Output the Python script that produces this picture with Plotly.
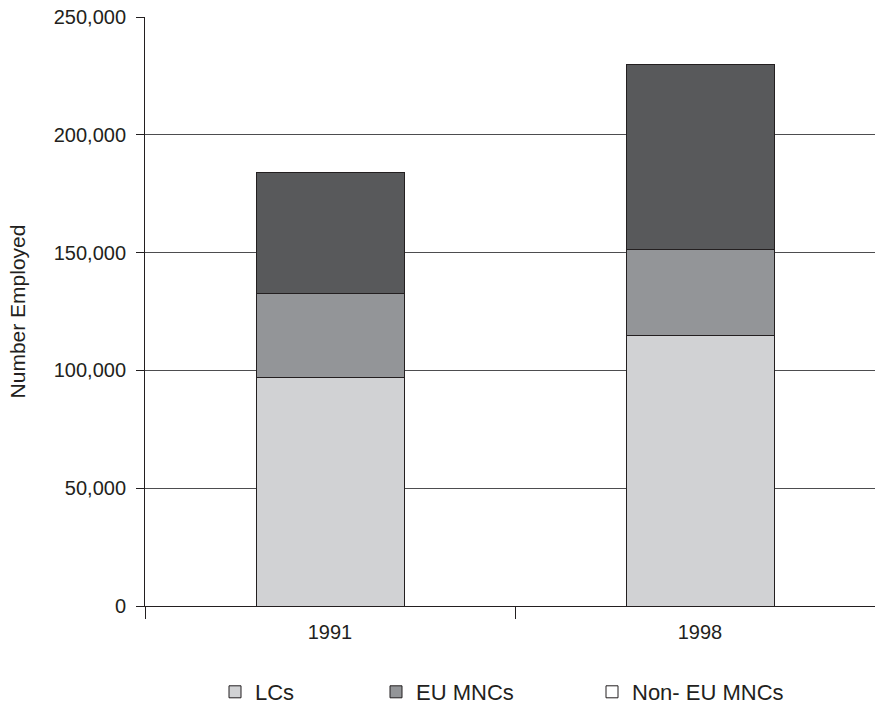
import plotly.graph_objects as go

years = ["1991", "1998"]
lcs = [97000, 115000]
eu_mncs = [35500, 36500]
non_eu_mncs = [51500, 78500]
y_ticks = [0, 50000, 100000, 150000, 200000, 250000]
y_tick_labels = ["0", "50,000", "100,000", "150,000", "200,000", "250,000"]

FONT = "Liberation Sans, Arial, sans-serif"
EDGE = "#231f20"
FS = 20

fig = go.Figure()
fig.add_trace(go.Bar(x=years, y=lcs, name="LCs", marker=dict(color="#d1d2d4", line=dict(color=EDGE, width=1)),
                     width=0.4, legend="legend"))
fig.add_trace(go.Bar(x=years, y=eu_mncs, name="EU MNCs", marker=dict(color="#939598", line=dict(color=EDGE, width=1)),
                     width=0.4, legend="legend2"))
fig.add_trace(go.Bar(x=years, y=non_eu_mncs, name="Non- EU MNCs", marker=dict(color="#58595b", line=dict(color=EDGE, width=1)),
                     width=0.4, showlegend=False))
# legend-only entry (white swatch as in the original legend)
fig.add_trace(go.Bar(x=[years[0]], y=[None], name="Non- EU MNCs",
                     marker=dict(color="#ffffff", line=dict(color=EDGE, width=1)), legend="legend3"))

leg_common = dict(orientation="h", yanchor="middle", xanchor="left", yref="container", xref="paper",
                  font=dict(family=FONT, size=22, color=EDGE), bgcolor="rgba(0,0,0,0)",
                  itemwidth=30, tracegroupgap=0)

fig.update_layout(
    barmode="stack",
    width=875, height=709,
    margin=dict(l=145, r=0, t=17, b=103),
    paper_bgcolor="white", plot_bgcolor="white",
    font=dict(family=FONT, size=FS, color=EDGE),
    legend=dict(x=(215 - 145) / 730, y=1 - 692 / 709, **leg_common),
    legend2=dict(x=(376 - 145) / 730, y=1 - 692 / 709, **leg_common),
    legend3=dict(x=(592 - 145) / 730, y=1 - 692 / 709, **leg_common),
    bargap=0.6,
)
fig.update_xaxes(
    type="category", range=[-0.5, 1.5 - 10 / 370],
    showline=True, linecolor=EDGE, linewidth=1,
    ticks="outside", ticklen=12, tickcolor=EDGE, tickson="boundaries",
    showgrid=False, tickfont=dict(family=FONT, size=FS, color=EDGE),
    ticklabelstandoff=8,
)
fig.update_yaxes(
    range=[0, 250000], tickvals=y_ticks, ticktext=y_tick_labels,
    showline=True, linecolor=EDGE, linewidth=1,
    ticks="outside", ticklen=8, tickcolor=EDGE,
    showgrid=True, gridcolor="#4d4d4f", gridwidth=1, zeroline=False,
    tickfont=dict(family=FONT, size=FS, color=EDGE),
    ticklabelstandoff=6,
    title=dict(text="Number Employed", font=dict(family=FONT, size=21, color=EDGE), standoff=22),
)

fig.write_html("out.html", config={"displayModeBar": False},
               post_script="document.body.style.margin='0';document.body.style.overflow='hidden';")
